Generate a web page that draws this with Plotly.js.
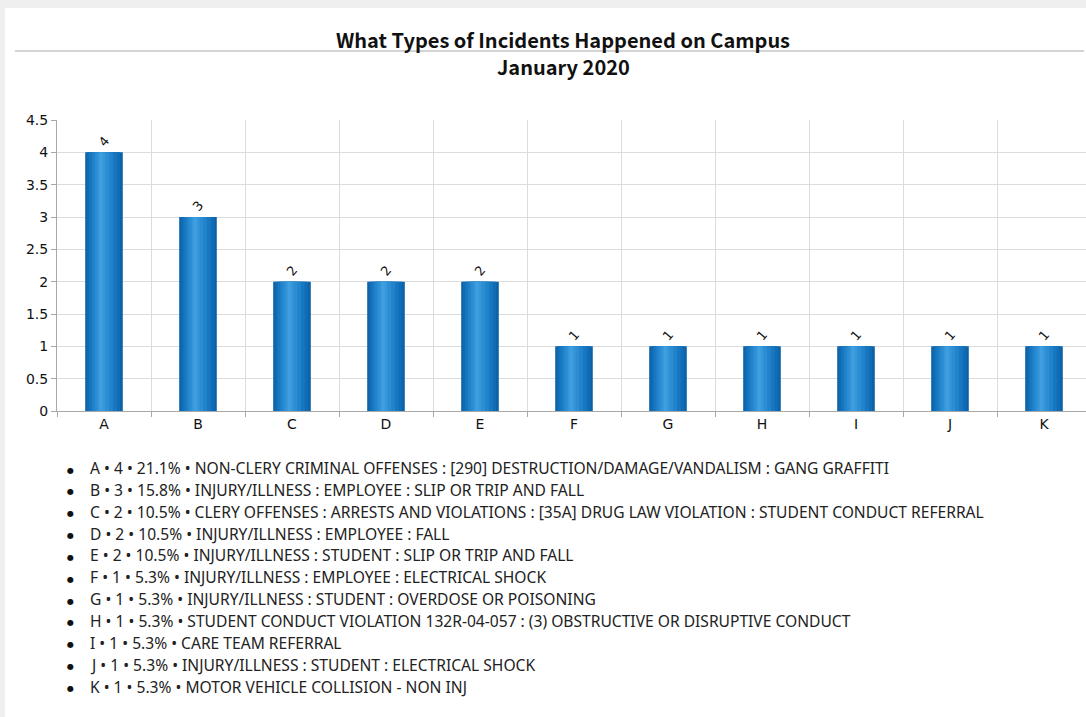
<!DOCTYPE html>
<html>
<head>
<meta charset="utf-8">
<script src="https://cdn.plot.ly/plotly-3.0.1.min.js"></script>
<style>
  html, body { margin: 0; padding: 0; background: #efefef; width: 1086px; height: 717px; overflow: hidden; }
  #chart { position: absolute; left: 5px; top: 8px; width: 1081px; height: 709px; background: #fff; }
</style>
</head>
<body>
<div id="chart"></div>
<script>
// ---- data ----
const categories = ["A", "B", "C", "D", "E", "F", "G", "H", "I", "J", "K"];
const counts = [4, 3, 2, 2, 2, 1, 1, 1, 1, 1, 1];
const descriptions = [
  "NON-CLERY CRIMINAL OFFENSES : [290] DESTRUCTION/DAMAGE/VANDALISM : GANG GRAFFITI",
  "INJURY/ILLNESS : EMPLOYEE : SLIP OR TRIP AND FALL",
  "CLERY OFFENSES : ARRESTS AND VIOLATIONS : [35A] DRUG LAW VIOLATION : STUDENT CONDUCT REFERRAL",
  "INJURY/ILLNESS : EMPLOYEE : FALL",
  "INJURY/ILLNESS : STUDENT : SLIP OR TRIP AND FALL",
  "INJURY/ILLNESS : EMPLOYEE : ELECTRICAL SHOCK",
  "INJURY/ILLNESS : STUDENT : OVERDOSE OR POISONING",
  "STUDENT CONDUCT VIOLATION 132R-04-057 : (3) OBSTRUCTIVE OR DISRUPTIVE CONDUCT",
  "CARE TEAM REFERRAL",
  "INJURY/ILLNESS : STUDENT : ELECTRICAL SHOCK",
  "MOTOR VEHICLE COLLISION - NON INJ"
];
const yTickValues = [0, 0.5, 1, 1.5, 2, 2.5, 3, 3.5, 4, 4.5];
const yTickLabels = ["0", "0.5", "1", "1.5", "2", "2.5", "3", "3.5", "4", "4.5"];
const chartTitle = "What Types of Incidents Happened on Campus";
const chartSubtitle = "January 2020";

// ---- layout geometry (pixels inside the white panel) ----
const W = 1081, H = 709;
const plotL = 52, plotT = 112, plotB = 403;
const plotW = W - plotL, plotH = plotB - plotT;
const catPx = 94;
const px2x = x => (x - plotL) / plotW;
const px2y = y => (plotB - y) / plotH;

// ---- bars with a cylinder-like shading (overlay layers) ----
const layers = [
  {w: 0.40, c: "#0b63aa"},
  {w: 0.35, c: "#116cb5"},
  {w: 0.29, c: "#1877c1"},
  {w: 0.22, c: "#2183cb"},
  {w: 0.15, c: "#2c8dd3"},
  {w: 0.08, c: "#3797da"},
  {w: 0.03, c: "#40a0df"}
];
const traces = layers.map((L, i) => ({
  type: "bar",
  x: categories,
  y: counts,
  width: L.w,
  offset: -0.20 + (0.40 - L.w) * 0.42,
  marker: {color: L.c, line: {width: 0}},
  hoverinfo: "skip",
  showlegend: false,
  cliponaxis: false,
  text: i === 0 ? counts.map(String) : undefined,
  textposition: i === 0 ? "outside" : "none",
  textangle: -50,
  textfont: {family: "DejaVu Sans", size: 13, color: "#111"}
}));

const total = counts.reduce((a, b) => a + b, 0);
const annotations = [];
categories.forEach((c, i) => {
  const yPx = 460 + i * 21.85;
  annotations.push({
    xref: "paper", yref: "paper", x: px2x(65), y: px2y(yPx + 2),
    xanchor: "center", yanchor: "middle", showarrow: false,
    text: "●", font: {family: "DejaVu Sans", size: 8, color: "#111"}
  });
  const pct = (counts[i] / total * 100).toFixed(1) + "%";
  annotations.push({
    xref: "paper", yref: "paper", x: px2x(83), y: px2y(yPx),
    xanchor: "left", yanchor: "middle", showarrow: false,
    text: c + " • " + counts[i] + " • " + pct + " • " + descriptions[i],
    font: {family: "Noto Sans", size: 15.6, color: "#222"}
  });
});
annotations.push({
  xref: "paper", yref: "paper", x: px2x(558), y: px2y(31),
  xanchor: "center", yanchor: "middle", showarrow: false,
  text: chartTitle,
  font: {family: "Noto Sans CJK JP", size: 20, weight: 700, color: "#111"}
});
annotations.push({
  xref: "paper", yref: "paper", x: px2x(558), y: px2y(58),
  xanchor: "center", yanchor: "middle", showarrow: false,
  text: chartSubtitle,
  font: {family: "Noto Sans CJK JP", size: 20, weight: 700, color: "#111"}
});

const layout = {
  width: W, height: H,
  margin: {l: plotL, r: 0, t: plotT, b: H - plotB, pad: 0},
  paper_bgcolor: "#ffffff",
  plot_bgcolor: "#ffffff",
  barmode: "overlay",
  showlegend: false,
  xaxis: {
    type: "category",
    range: [-0.5, -0.5 + plotW / catPx],
    tickson: "boundaries",
    ticks: "outside", ticklen: 5, tickcolor: "#a8a8a8",
    showgrid: true, gridcolor: "#dcdcdc", gridwidth: 1,
    showline: true, linecolor: "#a8a8a8", linewidth: 1,
    tickfont: {family: "DejaVu Sans", size: 14, color: "#111"},
    zeroline: false, fixedrange: true
  },
  yaxis: {
    range: [0, 4.5],
    tickvals: yTickValues, ticktext: yTickLabels,
    ticks: "outside", ticklen: 5, tickcolor: "#a8a8a8",
    showgrid: true, gridcolor: "#dcdcdc", gridwidth: 1,
    showline: true, linecolor: "#a8a8a8", linewidth: 1,
    zeroline: false,
    tickfont: {family: "DejaVu Sans", size: 14, color: "#111"},
    fixedrange: true
  },
  shapes: [{
    type: "line", xref: "paper", yref: "paper",
    x0: px2x(10), x1: px2x(1079), y0: px2y(43), y1: px2y(43),
    line: {color: "#d4d4d4", width: 2}, layer: "below"
  }],
  annotations: annotations
};

Plotly.newPlot("chart", traces, layout, {displayModeBar: false, staticPlot: true});
</script>
</body>
</html>
